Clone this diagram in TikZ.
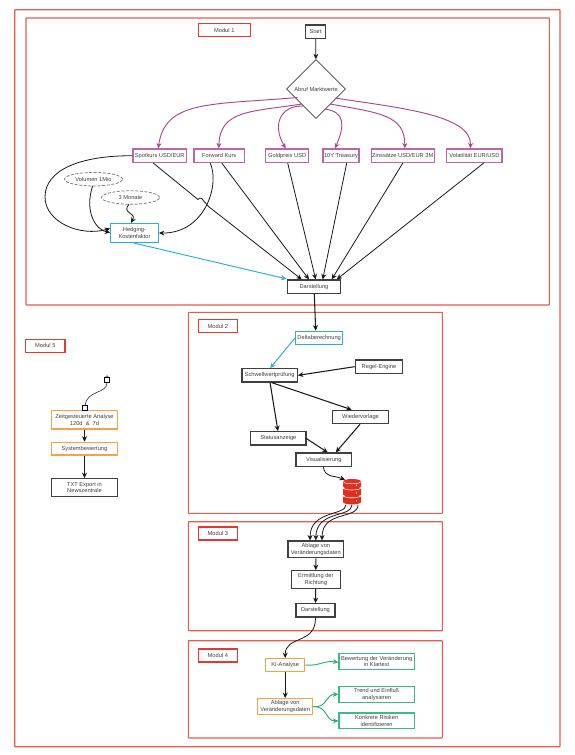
\documentclass[tikz,border=0pt]{standalone}
\usepackage{fontspec}
\setmainfont{Liberation Sans}
\usetikzlibrary{arrows.meta,shapes.geometric,calc}
\definecolor{frm}{HTML}{EC5A4E}
\definecolor{lblred}{HTML}{E4392B}
\definecolor{mag}{HTML}{B0468F}
\definecolor{magbox}{HTML}{C265A8}
\definecolor{blu}{HTML}{27AEDF}
\definecolor{org}{HTML}{F5A445}
\definecolor{grn}{HTML}{27B170}
\definecolor{grnbox}{HTML}{3DBB85}
\definecolor{dk}{HTML}{404040}
\definecolor{dbred}{HTML}{E02E1F}
\tikzset{
 base/.style={inner sep=0pt,align=center,font=\fontsize{5.7}{6.5}\selectfont,text=black!75,line width=1.15pt},
 frame/.style={draw=frm,line width=1.1pt,rounded corners=0.5pt},
 lbl/.style={base,draw=lblred},
 blk/.style={base,draw=dk},
 magb/.style={base,draw=magbox},
 blub/.style={base,draw=blu},
 orgb/.style={base,draw=org},
 grnb/.style={base,draw=grnbox},
 dashell/.style={base,draw=black!50,ellipse,line width=.8pt,dash pattern=on 3pt off 1.6pt},
 arr/.style={-{Stealth[length=5.5pt,width=5pt]},line width=.8pt,draw=black!90},
 arrb/.style={arr,line width=1.05pt},
 marr/.style={-{Stealth[length=5.5pt,width=5pt]},line width=.95pt,draw=mag},
 barr/.style={-{Stealth[length=5.5pt,width=5pt]},line width=.95pt,draw=blu},
 garr/.style={-{Stealth[length=5.5pt,width=5pt]},line width=.95pt,draw=grn},
 hnd/.style={draw=black,fill=white,line width=1pt,minimum size=4.8pt,inner sep=0pt},
}
\newcommand{\bx}[7]{\node[#1,minimum width={(#3-#2)*1pt},minimum height={(#5-#4)*1pt}] (#6) at ({(#2+#3)/2},{(#4+#5)/2}) {#7};}
\begin{document}
\begin{tikzpicture}[x=1pt,y=-1pt]
\useasboundingbox (0,0) rectangle (575,755);
% frames
\draw[frame] (14.7,9.7) rectangle (560,746.7);
\draw[frame] (26,18) rectangle (549.3,305);
\draw[frame] (188.3,312.3) rectangle (442.3,513.4);
\draw[frame] (188.3,521.7) rectangle (442.3,630.7);
\draw[frame] (188.3,640.7) rectangle (442.3,738);
% labels
\bx{lbl}{198.2}{250.4}{23.5}{36.5}{m1}{Modul 1}
\bx{lbl}{198.2}{237.5}{319.5}{332.5}{m2}{Modul 2}
\bx{lbl}{198.2}{237.5}{527}{540}{m3}{Modul 3}
\bx{lbl}{198.2}{237.5}{649}{662}{m4}{Modul 4}
\bx{lbl}{25.7}{65}{339.3}{352.3}{m5}{Modul 5}
% module 1
\bx{blk}{305.7}{325.7}{25}{38.5}{start}{Start}
\node[base,draw=dk,diamond,aspect=1,line width=.8pt,minimum width=59pt,minimum height=59pt] (dia) at (316,89) {Abruf Marktwerte};
\bx{magb}{133}{186.5}{149}{162.5}{spot}{Spotkurs USD/EUR}
\bx{magb}{194}{244.5}{149}{162.5}{fwd}{Forward Kurs}
\bx{magb}{265.7}{308.7}{149}{162.5}{gold}{Goldpreis USD}
\bx{magb}{323}{359}{149}{162.5}{ty}{10Y Treasury}
\bx{magb}{371.3}{434.3}{149}{162.5}{zins}{Zinssätze USD/EUR 3M}
\bx{magb}{446.7}{502}{149}{162.5}{vola}{Volatilität EUR/USD}
\bx{blk}{287.7}{340.3}{280}{293.5}{dar}{Darstellung}
\bx{blub}{110.7}{158.3}{223.5}{242.5}{hedge}{Hedging-\\Kostenfaktor}
\node[dashell,minimum width=58pt,minimum height=13.5pt] (vol) at (93.5,179.2) {Volumen 1Mio};
\node[dashell,minimum width=58pt,minimum height=13.5pt] (mon) at (130.5,197.5) {3 Monate};
\draw[arr] (start) -- (dia);
\draw[marr] ([shift={(-18.5,8.5)}]dia.center) .. controls (210,105) and (165,100) .. ([xshift=-1.5pt]spot.north);
\draw[marr] ([shift={(-14,15)}]dia.center) .. controls (250,112) and (220,110) .. ([xshift=-.5pt]fwd.north);
\draw[marr] ([shift={(-12,17)}]dia.center) .. controls (280,105) and (272,125) .. ([xshift=-1.5pt]gold.north);
\draw[marr] ([shift={(9,20)}]dia.center) .. controls (345,112) and (345,125) .. ([xshift=-6pt]ty.north);
\draw[marr] ([shift={(14,15)}]dia.center) .. controls (380,113) and (405,115) .. ([xshift=2pt]zins.north);
\draw[marr] ([shift={(19,9)}]dia.center) .. controls (400,108) and (472,115) .. ([xshift=-4pt]vola.north);
\draw[arr] (spot.west) .. controls (80,155.5) and (45,170) .. (45,197) .. controls (45,222) and (80,237) .. ([yshift=4.5pt]hedge.west);
\draw[arr] ([xshift=-9pt]fwd.south |- fwd.south) .. controls (220,185) and (205,233.5) .. (hedge.east);
\draw[arr] ([shift={(-.8,-.5)}]vol.south) .. controls (84,212) and (96,230) .. ([yshift=.5pt]hedge.west);
\draw[arr] ([shift={(-1.5,-.5)}]mon.south) .. controls (121,214) and (137,212) .. ([xshift=-3.5pt]hedge.north);
\draw[barr] ([xshift=-.5pt]hedge.south) -- ([shift={(-.5,-.5)}]dar.north west);
\draw[arr] ([xshift=-6.5pt]spot.south) -- (198,199.5) arc[start angle=150,end angle=10,radius=2.8pt] -- (208.5,206.5) -- ([xshift=-12.3pt]dar.north);
\draw[arr] ([xshift=2.5pt]fwd.south) -- ([xshift=-5pt]dar.north);
\draw[arr] ([xshift=.5pt]gold.south) -- ([xshift=1.7pt]dar.north);
\draw[arr] ([xshift=5.7pt]ty.south) -- ([xshift=8.7pt]dar.north);
\draw[arr] (zins.south) -- ([xshift=17.7pt]dar.north);
\draw[arr] ([xshift=9.3pt]vola.south) -- ([xshift=22.7pt]dar.north);
% module 2
\bx{blub}{295.7}{342.7}{331.3}{344.3}{delta}{Deltaberechnung}
\bx{blk}{355.3}{402.7}{360}{373.3}{regel}{Regel-Engine}
\bx{blk}{242}{297.3}{368.7}{382}{schw}{Schwellwertprüfung}
\bx{blk}{332.7}{388.3}{410.3}{423.7}{wied}{Wiedervorlage}
\bx{blk}{250.7}{306}{431.7}{445}{stat}{Statusanzeige}
\bx{blk}{296}{351.7}{453}{466.3}{vis}{Visualisierung}
% database icon
\node[inner sep=0pt,minimum width=18pt,minimum height=24pt] (db) at (352,492.5) {};
\foreach \yy in {484.4,492.2,500}{
  \fill[dbred] (343,\yy-3) -- (343,\yy+2) arc[start angle=180,end angle=360,x radius=9pt,y radius=2.4pt] -- (361,\yy-3) arc[start angle=0,end angle=180,x radius=9pt,y radius=2.4pt] -- cycle;
}
\draw[white,line width=.6pt] (343,487.6) arc[start angle=180,end angle=360,x radius=9pt,y radius=2.4pt];
\draw[white,line width=.6pt] (343,495.4) arc[start angle=180,end angle=360,x radius=9pt,y radius=2.4pt];
\draw[white,line width=.5pt] (343,481.4) arc[start angle=180,end angle=360,x radius=9pt,y radius=2.4pt];
\fill[white] (356.5,485.2) circle (.6pt) (356.5,493) circle (.6pt) (356.5,500.8) circle (.6pt);
\draw[arrb] (dar) -- ([xshift=-3.5pt]delta.north);
\draw[barr] (delta.west) -- ([xshift=.5pt]schw.north);
\draw[arrb] (regel.west) -- (schw.east);
\draw[arrb] ([xshift=.4pt]schw.south) -- ([xshift=-.4pt]stat.north);
\draw[arrb] ([xshift=2pt]schw.south) -- ([xshift=-8.8pt]wied.north);
\draw[arrb] ([xshift=-.5pt]stat.east) -- ([xshift=3.9pt]vis.north);
\draw[arrb] ([xshift=-.5pt]wied.south) -- ([xshift=11.9pt]vis.north);
\draw[arr] ([xshift=-.5pt]vis.south) .. controls (325,478) and (333,475) .. ([shift={(-7,-.5)}]db.north);
% module 3
\bx{blk}{288}{343.7}{541}{557.7}{abl}{Ablage von\\Veränderungsdaten}
\bx{blk}{291.3}{340.3}{570.7}{588.3}{erm}{Ermittlung der\\Richtung}
\bx{blk}{296}{335}{603.7}{617}{dar3}{Darstellung}
\draw[arr] ([xshift=-6pt]db.south) .. controls (346,516) and (310,510) .. ([xshift=-5.8pt]abl.north);
\draw[arr] (db.south) .. controls (352,518) and (316,510) .. (abl.north);
\draw[arr] ([xshift=6pt]db.south) .. controls (358,520) and (322,510) .. ([xshift=6.2pt]abl.north);
\draw[arrb] (abl) -- (erm);
\draw[arrb] (erm) -- (dar3);
% module 4
\bx{orgb}{265.7}{304.7}{658.7}{671.7}{ki}{KI-Analyse}
\bx{orgb}{257.7}{312.7}{698.7}{714.7}{abl4}{Ablage von\\Veränderungsdaten}
\bx{grnb}{339}{414.3}{653.3}{669.7}{bew}{Bewertung der Veränderung\\in Klartext}
\bx{grnb}{339}{414.3}{686.3}{702.3}{trend}{Trend und Einfluß\\analysieren}
\bx{grnb}{339}{414.3}{713}{728.7}{risk}{Konkrete Risiken\\identifizieren}
\draw[arr] (dar3.south) .. controls (316,645) and (285,635) .. (ki.north);
\draw[arrb] (ki) -- (abl4);
\draw[garr] (ki.east) .. controls (320,666) and (325,660) .. ([yshift=-1pt]bew.west);
\draw[garr] (abl4.east) .. controls (328,708) and (325,694.3) .. (trend.west);
\draw[garr] (abl4.east) .. controls (328,706) and (325,721) .. (risk.west);
% module 5
\bx{orgb}{51.7}{117.3}{410.7}{429}{zeit}{Zeitgesteuerte Analyse\\120d \ \& \ 7d}
\bx{orgb}{51.7}{117.3}{442.3}{455}{sys}{Systembewertung}
\bx{blk}{51.7}{117.3}{478.7}{496.5}{txt}{TXT Export in\\Newszentrale}
\node[hnd] (h1) at (107,379.7) {};
\node[hnd] (h2) at (85,407.7) {};
\draw[black!80,line width=.6pt] (h2) .. controls (87,390) and (107,394) .. (h1);
\node[hnd] at (107,379.7) {};
\node[hnd] at (85,407.7) {};
\draw[black,line width=.5pt] (105.6,377) arc[start angle=180,end angle=0,radius=1.4pt];
\draw[arrb] (zeit) -- (sys);
\draw[arrb] (sys) -- (txt);
\end{tikzpicture}
\end{document}
